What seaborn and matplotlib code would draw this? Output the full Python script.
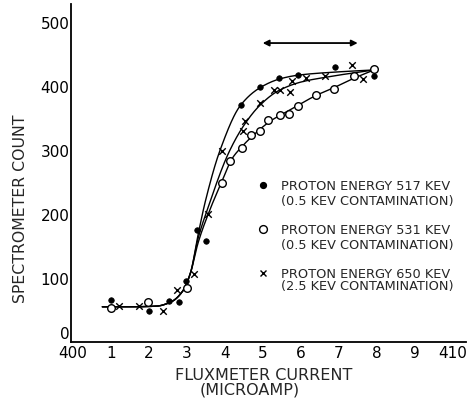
import numpy as np
import pandas as pd
import matplotlib
matplotlib.use("Agg")
import matplotlib.pyplot as plt
import matplotlib.transforms as mtransforms
import seaborn as sns

# ---- data ----
x_tick_pos = [0, 1, 2, 3, 4, 5, 6, 7, 8, 9, 10]
x_tick_labels = ["400", "1", "2", "3", "4", "5", "6", "7", "8", "9", "410"]
y_ticks = [0, 100, 200, 300, 400, 500]

# Proton energy 517 keV (filled dots)
p517_x = [1.0, 2.0, 2.54, 2.79, 2.97, 3.26, 3.52, 4.42, 4.94, 5.43, 5.92, 6.9, 7.92]
p517_y = [65, 48, 64, 62, 96, 175, 158, 370, 398, 413, 417, 429, 415]

# Proton energy 531 keV (open circles)
p531_x = [1.0, 1.97, 3.0, 3.92, 4.14, 4.45, 4.68, 4.93, 5.15, 5.46, 5.7, 5.94, 6.4, 6.87, 7.39, 7.93]
p531_y = [53, 62, 84, 248, 283, 303, 323, 330, 347, 355, 356, 368, 386, 396, 415, 427]

# Proton energy 650 keV (crosses)
p650_x = [1.22, 1.75, 2.37, 2.74, 3.2, 3.55, 3.92, 4.49, 4.54, 4.93, 5.3, 5.46, 5.72, 5.77, 6.13, 6.63, 7.34, 7.65]
p650_y = [57, 57, 48, 82, 106, 200, 299, 330, 346, 374, 393, 394, 390, 408, 412, 416, 433, 411]

# Hand-drawn guide curves (knots)
c517_x = [0.78, 1.5, 2.2, 2.6, 2.9, 3.1, 3.3, 3.5, 3.88, 4.42, 4.95, 5.45, 5.95, 7.0, 7.93]
c517_y = [55, 55, 56, 63, 80, 108, 168, 222, 300, 370, 398, 411, 417, 422, 425]
c650_x = [0.78, 1.5, 2.2, 2.6, 2.9, 3.1, 3.3, 3.55, 4.1, 4.5, 4.93, 5.4, 6.0, 6.7, 7.93]
c650_y = [55, 55, 56, 63, 80, 108, 162, 208, 295, 338, 370, 392, 406, 414, 425]
c531_x = [0.78, 1.5, 2.2, 2.6, 2.9, 3.1, 3.3, 3.6, 3.92, 4.2, 4.45, 4.7, 5.2, 5.7, 6.4, 6.9, 7.4, 7.93]
c531_y = [55, 55, 56, 63, 80, 108, 155, 205, 250, 287, 305, 320, 345, 362, 385, 398, 412, 425]

arrow_x = [5.0, 7.5]
arrow_y = 467

legend_labels = [
    ("PROTON ENERGY 517 KEV", "(0.5 KEV CONTAMINATION)"),
    ("PROTON ENERGY 531 KEV", "(0.5 KEV CONTAMINATION)"),
    ("PROTON ENERGY 650 KEV", "(2.5 KEV CONTAMINATION)"),
]


def pchip(x, y, xs):
    x = np.asarray(x, float)
    y = np.asarray(y, float)
    h = np.diff(x)
    d = np.diff(y) / h
    m = np.zeros_like(y)
    for k in range(1, len(x) - 1):
        if d[k - 1] * d[k] <= 0:
            m[k] = 0.0
        else:
            w1 = 2 * h[k] + h[k - 1]
            w2 = h[k] + 2 * h[k - 1]
            m[k] = (w1 + w2) / (w1 / d[k - 1] + w2 / d[k])
    m[0] = d[0]
    m[-1] = d[-1]
    idx = np.clip(np.searchsorted(x, xs) - 1, 0, len(h) - 1)
    t = (xs - x[idx]) / h[idx]
    h00 = 2 * t**3 - 3 * t**2 + 1
    h10 = t**3 - 2 * t**2 + t
    h01 = -2 * t**3 + 3 * t**2
    h11 = t**3 - t**2
    return h00 * y[idx] + h10 * h[idx] * m[idx] + h01 * y[idx + 1] + h11 * h[idx] * m[idx + 1]


sns.set_style("white")
plt.rcParams["font.family"] = ["DejaVu Sans"]

fig = plt.figure(figsize=(4.67, 4.02), dpi=100)
ax = fig.add_axes([71 / 467, 59 / 402, 395 / 467, 338 / 402])

# curves
for cx, cy in [(c517_x, c517_y), (c650_x, c650_y), (c531_x, c531_y)]:
    xs = np.linspace(cx[0], cx[-1], 400)
    df_c = pd.DataFrame({"x": xs, "y": pchip(cx, cy, xs)})
    sns.lineplot(data=df_c, x="x", y="y", ax=ax, color="black", lw=1.0, sort=False)

# points
df517 = pd.DataFrame({"x": p517_x, "y": p517_y})
df531 = pd.DataFrame({"x": p531_x, "y": p531_y})
df650 = pd.DataFrame({"x": p650_x, "y": p650_y})
sns.scatterplot(data=df517, x="x", y="y", ax=ax, marker="o", s=16, color="black",
                edgecolor="black", linewidth=0.5, zorder=5)
sns.scatterplot(data=df531, x="x", y="y", ax=ax, marker="o", s=30, facecolor="white",
                edgecolor="black", linewidth=1.0, zorder=5)
sns.scatterplot(data=df650, x="x", y="y", ax=ax, marker="x", s=22, color="black",
                linewidth=1.0, zorder=5)

# arrow
ax.annotate("", xy=(arrow_x[1], arrow_y), xytext=(arrow_x[0], arrow_y),
            arrowprops=dict(arrowstyle="<|-|>", color="black", lw=1.3,
                            mutation_scale=9, shrinkA=0, shrinkB=0))

# legend (manual, markers aligned with first line)
leg_marker_x = 0.486
leg_text_x = 0.532
leg_first_y = [0.464, 0.333, 0.204]
leg_second_y = [0.419, 0.289, 0.166]
marker_kw = [
    dict(marker="o", ms=4.2, mfc="black", mec="black"),
    dict(marker="o", ms=5.6, mfc="white", mec="black", mew=1.0),
    dict(marker="x", ms=5.0, mec="black", mew=1.0),
]
for (l1, l2), y1, y2, mk in zip(legend_labels, leg_first_y, leg_second_y, marker_kw):
    ax.plot([leg_marker_x], [y1], transform=ax.transAxes, ls="none", **mk)
    ax.text(leg_text_x, y1, l1, transform=ax.transAxes, ha="left", va="center", fontsize=9.3)
    ax.text(leg_text_x, y2, l2, transform=ax.transAxes, ha="left", va="center", fontsize=9.3)

# axes styling
ax.set_xlim(-0.045, 10.35)
ax.set_ylim(0, 528)
ax.set_xticks(x_tick_pos)
ax.set_xticklabels(x_tick_labels)
ax.set_yticks(y_ticks)
ax.set_yticklabels([str(v) for v in y_ticks])
for side in ["top", "right"]:
    ax.spines[side].set_visible(False)
for side in ["left", "bottom"]:
    ax.spines[side].set_linewidth(1.3)
    ax.spines[side].set_color("black")
ax.tick_params(axis="y", direction="in", length=11, width=1.1, pad=1, labelsize=11, colors="black")
ax.tick_params(axis="x", direction="in", length=9.5, width=1.1, pad=2, labelsize=11, colors="black")

ax.set_ylabel("SPECTROMETER COUNT", fontsize=11.3)
ax.yaxis.set_label_coords(-0.109, 0.396)
ax.set_xlabel("FLUXMETER CURRENT", fontsize=11.5)
ax.xaxis.set_label_coords(0.489, -0.075)
ax.text(0.453, -0.139, "(MICROAMP)", transform=ax.transAxes, ha="center", va="center", fontsize=11.5)

ax.grid(False)

# raise the "0" label slightly (as in the reference) so it clears "400"
fig.canvas.draw()
zero_tick = ax.yaxis.get_major_ticks()[0]
zero_tick.label1.set_transform(zero_tick.label1.get_transform() +
                               mtransforms.ScaledTranslation(0, 7 / 72, fig.dpi_scale_trans))
zero_tick.tick1line.set_visible(False)

fig.savefig("out.png", dpi=100, facecolor="white")
